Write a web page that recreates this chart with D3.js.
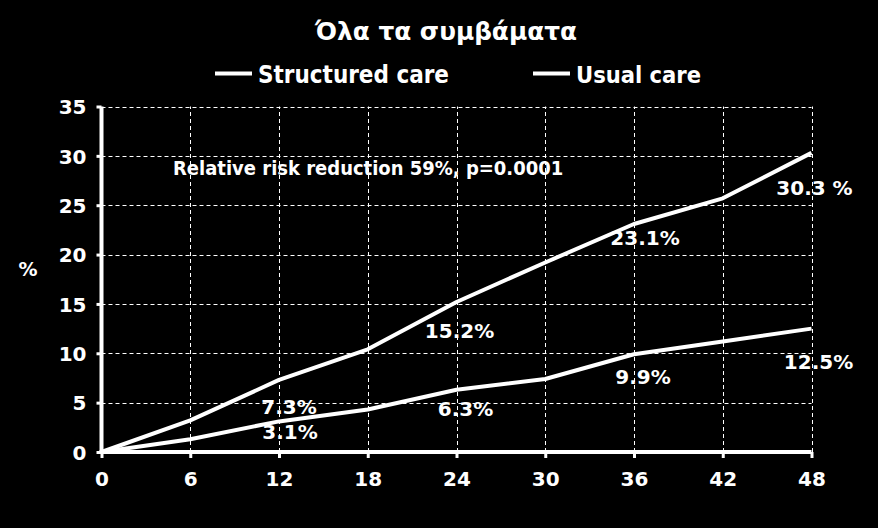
<!DOCTYPE html>
<html>
<head>
<meta charset="utf-8">
<script src="https://cdn.jsdelivr.net/npm/d3@7"></script>
<style>
  html, body { margin: 0; padding: 0; background: #000; }
  svg { display: block; }
  text { fill: #fff; font-family: "DejaVu Sans", Verdana, sans-serif; font-weight: bold; }
  .cond { font-family: "DejaVu Sans Condensed", "DejaVu Sans", sans-serif; font-stretch: condensed; }
</style>
</head>
<body>
<svg id="chart" width="878" height="528"></svg>
<script>
// ---- data ----
const title = "Όλα τα συμβάματα";
const months = [0, 6, 12, 18, 24, 30, 36, 42, 48];
const usualCare = [0, 3.2, 7.3, 10.4, 15.2, 19.2, 23.1, 25.7, 30.3];
const structuredCare = [0, 1.3, 3.1, 4.3, 6.3, 7.4, 9.9, 11.2, 12.5];
const seriesNames = ["Structured care", "Usual care"];
const yTicks = [0, 5, 10, 15, 20, 25, 30, 35];
const xTicks = [0, 6, 12, 18, 24, 30, 36, 42, 48];
const annotation = "Relative risk reduction 59%, p=0.0001";
const yAxisLabel = "%";
// data labels: [series, month, value, text]
const labelSeries = ["usual", "usual", "usual", "usual", "structured", "structured", "structured", "structured"];
const labelMonths = [12, 24, 36, 48, 12, 24, 36, 48];
const labelValues = [7.3, 15.2, 23.1, 30.3, 3.1, 6.3, 9.9, 12.5];
const labelTexts = ["7.3%", "15.2%", "23.1%", "30.3 %", "3.1%", "6.3%", "9.9%", "12.5%"];

// ---- layout (not data) ----
const labelDx = [10, 3, 11, 3, 11, 9, 9, 7];
const labelDy = [34, 36, 21, 42, 18, 26, 30, 40];

const svg = d3.select("#chart");
const W = 878, H = 528;
svg.append("rect").attr("width", W).attr("height", H).attr("fill", "#000");

const x = d3.scaleLinear().domain([0, 48]).range([101.5, 811.5]);
const y = d3.scaleLinear().domain([0, 35]).range([452, 106.5]);

function fitWidth(sel, target) {
  const node = sel.node();
  let fs = parseFloat(sel.attr("font-size"));
  for (let i = 0; i < 4; i++) {
    const w = node.getComputedTextLength();
    fs = fs * target / w;
    sel.attr("font-size", fs);
  }
}

// gridlines
const grid = svg.append("g");
grid.selectAll("line.h").data(yTicks.filter(d => d > 0)).join("line")
  .attr("x1", x(0)).attr("x2", x(48))
  .attr("y1", d => Math.round(y(d)) + 0.5).attr("y2", d => Math.round(y(d)) + 0.5)
  .attr("stroke", "#fff").attr("stroke-width", 1).attr("stroke-dasharray", "4,3");
grid.selectAll("line.v").data(xTicks.filter(d => d > 0)).join("line")
  .attr("y1", y(0)).attr("y2", y(35))
  .attr("x1", d => Math.round(x(d)) + 0.5).attr("x2", d => Math.round(x(d)) + 0.5)
  .attr("stroke", "#fff").attr("stroke-width", 1).attr("stroke-dasharray", "4,3");

// axes
const yAxis = d3.axisLeft(y).tickValues(yTicks).tickSize(5).tickPadding(10);
const gy = svg.append("g").attr("transform", `translate(${x(0)},0)`).call(yAxis);
const xAxis = d3.axisBottom(x).tickValues(xTicks).tickSize(6).tickPadding(14);
const gx = svg.append("g").attr("transform", `translate(0,${y(0)})`).call(xAxis);
[gx, gy].forEach(g => {
  g.select(".domain").remove();
  g.selectAll(".tick line").attr("stroke", "#fff").attr("stroke-width", 3);
  g.selectAll(".tick text").attr("fill", "#fff").attr("font-size", 20)
    .attr("font-family", "DejaVu Sans, sans-serif").attr("font-weight", "bold");
});
gy.selectAll(".tick text").attr("dy", "0.36em");
svg.append("line").attr("x1", x(0)).attr("x2", x(0)).attr("y1", y(35)).attr("y2", y(0) + 2)
  .attr("stroke", "#fff").attr("stroke-width", 4);
svg.append("line").attr("x1", x(0) - 2).attr("x2", x(48)).attr("y1", y(0)).attr("y2", y(0))
  .attr("stroke", "#fff").attr("stroke-width", 4);

// lines
const line = d3.line().x((d, i) => x(months[i])).y(d => y(d));
svg.append("path").datum(usualCare).attr("d", line).attr("fill", "none")
  .attr("stroke", "#fff").attr("stroke-width", 4).attr("stroke-linejoin", "round");
svg.append("path").datum(structuredCare).attr("d", line).attr("fill", "none")
  .attr("stroke", "#fff").attr("stroke-width", 4).attr("stroke-linejoin", "round");

// data labels
svg.append("g").selectAll("text").data(labelTexts).join("text")
  .attr("x", (d, i) => x(labelMonths[i]) + labelDx[i])
  .attr("y", (d, i) => y(labelValues[i]) + labelDy[i])
  .attr("text-anchor", "middle").attr("font-size", 20)
  .text(d => d);

// annotation
const ann = svg.append("text").attr("class", "cond").attr("x", 173).attr("y", 175)
  .attr("font-size", 19).text(annotation);
fitWidth(ann, 390);

// y label
svg.append("text").attr("x", 28).attr("y", 276).attr("text-anchor", "middle")
  .attr("font-size", 19).text(yAxisLabel);

// title
const t = svg.append("text").attr("x", 446).attr("y", 40).attr("text-anchor", "middle")
  .attr("font-size", 24).text(title);
fitWidth(t, 262);

// legend
const legX = [215, 533];
const legW = [191, 125];
seriesNames.forEach((name, i) => {
  svg.append("line").attr("x1", legX[i]).attr("x2", legX[i] + 37).attr("y1", 73.5).attr("y2", 73.5)
    .attr("stroke", "#fff").attr("stroke-width", 4);
  const lt = svg.append("text").attr("class", "cond").attr("x", legX[i] + 43).attr("y", 83)
    .attr("font-size", 23).text(name);
  fitWidth(lt, legW[i]);
});
</script>
</body>
</html>
